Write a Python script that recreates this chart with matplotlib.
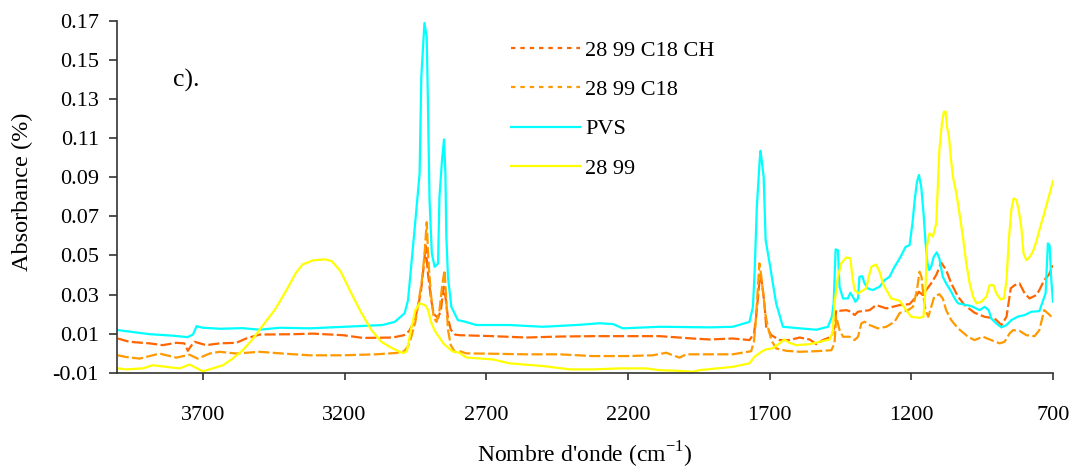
import numpy as np
import matplotlib
matplotlib.use("Agg")
import matplotlib.pyplot as plt
from matplotlib.lines import Line2D

# (wavenumber cm-1, absorbance)
c18ch = [(4000, 0.0075), (3959, 0.0058), (3888, 0.005), (3841, 0.0041), (3794, 0.0053),
         (3765, 0.005), (3753, 0.0012), (3740, 0.004), (3729, 0.0058), (3688, 0.0041),
         (3641, 0.005), (3582, 0.0053), (3547, 0.0075), (3500, 0.0095), (3382, 0.0097),
         (3312, 0.010), (3206, 0.0092), (3135, 0.0078), (3030, 0.008), (2990, 0.0092),
         (2971, 0.0115), (2955, 0.016), (2940, 0.024), (2930, 0.032), (2920, 0.045),
         (2914, 0.055), (2905, 0.040), (2895, 0.028), (2885, 0.020), (2870, 0.018),
         (2860, 0.022), (2850, 0.034), (2843, 0.028), (2835, 0.018), (2825, 0.012),
         (2810, 0.0095), (2795, 0.0092), (2677, 0.0087), (2559, 0.008), (2441, 0.0085),
         (2324, 0.0087), (2206, 0.0087), (2088, 0.0087), (1971, 0.0075), (1912, 0.007),
         (1830, 0.0075), (1771, 0.0067), (1755, 0.010), (1748, 0.018), (1740, 0.030),
         (1734, 0.040), (1727, 0.036), (1718, 0.025), (1712, 0.0135), (1694, 0.0092),
         (1665, 0.0067), (1630, 0.0067), (1594, 0.008), (1559, 0.007), (1535, 0.0046),
         (1512, 0.0067), (1482, 0.0084), (1471, 0.0135), (1465, 0.022), (1453, 0.0217),
         (1429, 0.022), (1412, 0.0212), (1400, 0.0195), (1388, 0.0212), (1347, 0.022),
         (1324, 0.0246), (1288, 0.0229), (1241, 0.0246), (1206, 0.0251), (1188, 0.028),
         (1173, 0.0314), (1159, 0.0297), (1154, 0.031), (1130, 0.0357), (1112, 0.040),
         (1094, 0.0463), (1077, 0.0425), (1059, 0.0357), (1035, 0.0289), (1012, 0.0246),
         (977, 0.0207), (941, 0.0186), (906, 0.0178), (882, 0.0144), (864, 0.0186),
         (849, 0.0332), (835, 0.0348), (818, 0.0357), (800, 0.0306), (783, 0.028),
         (759, 0.0297), (748, 0.0323), (731, 0.0374), (715, 0.040), (700, 0.045)]

c18 = [(4000, -0.0011), (3970, -0.002), (3923, -0.0028), (3853, -0.0002), (3794, -0.0023),
       (3747, -0.0008), (3718, -0.0028), (3676, -0.0002), (3641, 0.0007), (3582, -0.0002),
       (3500, 0.0007), (3418, -0.0002), (3323, -0.0011), (3206, -0.0011), (3088, -0.0006),
       (3018, 0.0001), (2990, 0.001), (2977, 0.0032), (2965, 0.008), (2950, 0.016),
       (2938, 0.027), (2928, 0.036), (2918, 0.050), (2910, 0.067), (2903, 0.045),
       (2895, 0.030), (2885, 0.018), (2875, 0.016), (2865, 0.022), (2855, 0.035),
       (2847, 0.0425), (2840, 0.025), (2835, 0.012), (2825, 0.004), (2810, 0.0005),
       (2795, 0.0011), (2771, -0.0001), (2677, -0.0003), (2559, -0.0006), (2441, -0.0006),
       (2324, -0.0015), (2206, -0.0015), (2112, -0.0011), (2065, 0.0002), (2018, -0.0023),
       (1994, -0.0006), (1912, -0.0006), (1830, -0.0006), (1765, 0.001), (1755, 0.006),
       (1748, 0.018), (1742, 0.032), (1736, 0.046), (1730, 0.040), (1722, 0.030),
       (1715, 0.020), (1706, 0.0135), (1694, 0.0067), (1677, 0.0024), (1641, 0.0012),
       (1594, 0.0007), (1535, 0.001), (1482, 0.0015), (1471, 0.005), (1465, 0.0186),
       (1453, 0.0118), (1441, 0.0084), (1418, 0.0084), (1400, 0.0067), (1388, 0.0084),
       (1376, 0.0153), (1365, 0.0161), (1347, 0.0144), (1318, 0.0127), (1288, 0.0135),
       (1259, 0.0161), (1241, 0.0205), (1212, 0.022), (1194, 0.0237), (1180, 0.0323),
       (1171, 0.0417), (1164, 0.0391), (1157, 0.0289), (1150, 0.022), (1140, 0.0186),
       (1119, 0.0289), (1101, 0.0302), (1089, 0.028), (1077, 0.022), (1059, 0.0169),
       (1035, 0.0127), (1000, 0.0084), (977, 0.0067), (947, 0.0084), (918, 0.0067),
       (888, 0.005), (871, 0.0058), (853, 0.0101), (841, 0.0118), (818, 0.0114),
       (794, 0.0092), (765, 0.0087), (748, 0.0118), (731, 0.022), (715, 0.020),
       (700, 0.0178)]

pvs = [(4000, 0.0118), (3888, 0.0097), (3810, 0.009), (3754, 0.0082), (3735, 0.0095),
       (3722, 0.0138), (3700, 0.013), (3640, 0.0125), (3560, 0.0128), (3500, 0.012),
       (3429, 0.013), (3323, 0.0127), (3200, 0.0135), (3066, 0.0144), (3023, 0.016),
       (2988, 0.0204), (2976, 0.0271), (2965, 0.0442), (2953, 0.063), (2935, 0.092),
       (2929, 0.1415), (2918, 0.169), (2910, 0.162), (2906, 0.131), (2900, 0.0784),
       (2892, 0.0511), (2882, 0.0442), (2870, 0.0459), (2865, 0.080), (2856, 0.0988),
       (2849, 0.1094), (2844, 0.092), (2841, 0.0613), (2835, 0.039), (2823, 0.0237),
       (2800, 0.0169), (2777, 0.0162), (2735, 0.0144), (2618, 0.0144), (2500, 0.0135),
       (2382, 0.0144), (2300, 0.0153), (2253, 0.0149), (2218, 0.0127), (2088, 0.0135),
       (1912, 0.0132), (1830, 0.0135), (1771, 0.016), (1759, 0.0237), (1753, 0.0408),
       (1745, 0.0749), (1735, 0.0988), (1732, 0.1036), (1721, 0.0903), (1714, 0.0579),
       (1700, 0.046), (1677, 0.0255), (1653, 0.0135), (1594, 0.0127), (1535, 0.012),
       (1494, 0.0135), (1480, 0.0187), (1474, 0.0255), (1467, 0.0531), (1459, 0.0527),
       (1453, 0.0339), (1441, 0.028), (1424, 0.028), (1415, 0.0309), (1406, 0.0288),
       (1397, 0.0263), (1388, 0.028), (1383, 0.0391), (1373, 0.0394), (1365, 0.0357),
       (1353, 0.0331), (1336, 0.0323), (1312, 0.034), (1294, 0.0374), (1277, 0.0391),
       (1259, 0.0442), (1241, 0.0485), (1220, 0.0544), (1206, 0.0553), (1196, 0.0664),
       (1188, 0.0784), (1180, 0.0877), (1173, 0.0912), (1165, 0.0852), (1157, 0.072),
       (1150, 0.057), (1143, 0.046), (1137, 0.0425), (1130, 0.0442), (1121, 0.0493),
       (1110, 0.0516), (1101, 0.0485), (1089, 0.0391), (1077, 0.0357), (1059, 0.0314),
       (1047, 0.028), (1035, 0.0255), (988, 0.0241), (959, 0.022), (941, 0.0237),
       (927, 0.022), (918, 0.0178), (900, 0.0152), (882, 0.0132), (864, 0.0144),
       (847, 0.0169), (824, 0.0187), (800, 0.0195), (776, 0.0212), (748, 0.0215),
       (726, 0.0307), (718, 0.0562), (712, 0.0553), (706, 0.0374), (700, 0.0263)]

s2899 = [(4000, -0.0078), (3970, -0.0083), (3912, -0.0078), (3877, -0.0062), (3829, -0.007),
         (3782, -0.0078), (3747, -0.0058), (3700, -0.0093), (3665, -0.0078), (3629, -0.0062),
         (3594, -0.0027), (3559, 0.0015), (3524, 0.0072), (3482, 0.0154), (3445, 0.0224),
         (3409, 0.0312), (3372, 0.041), (3348, 0.0454), (3311, 0.0475), (3269, 0.048),
         (3245, 0.0471), (3214, 0.0419), (3178, 0.0312), (3141, 0.0207), (3105, 0.0118),
         (3069, 0.0057), (3030, 0.0024), (2994, 0.0), (2980, 0.001), (2965, 0.0125),
         (2950, 0.022), (2935, 0.0255), (2915, 0.0245), (2905, 0.022), (2895, 0.016),
         (2882, 0.0115), (2850, 0.0048), (2820, 0.001), (2795, 0.0002), (2771, -0.0022),
         (2677, -0.0032), (2618, -0.0052), (2500, -0.0066), (2405, -0.0083), (2324, -0.0083),
         (2229, -0.0078), (2135, -0.0078), (2088, -0.0087), (2029, -0.009), (1971, -0.0095),
         (1947, -0.0087), (1830, -0.007), (1771, -0.0052), (1753, -0.0018), (1729, 0.0007),
         (1712, 0.002), (1689, 0.0025), (1665, 0.005), (1648, 0.007), (1630, 0.0053),
         (1606, 0.0041), (1559, 0.0046), (1524, 0.0058), (1488, 0.007), (1477, 0.0109),
         (1471, 0.0255), (1459, 0.0391), (1447, 0.046), (1429, 0.049), (1415, 0.0485),
         (1408, 0.0391), (1400, 0.0323), (1388, 0.0306), (1359, 0.0331), (1350, 0.0391),
         (1341, 0.0442), (1324, 0.0454), (1312, 0.0417), (1300, 0.0357), (1288, 0.0323),
         (1271, 0.028), (1241, 0.0268), (1218, 0.022), (1200, 0.0186), (1171, 0.0181),
         (1157, 0.0186), (1150, 0.0323), (1145, 0.0545), (1136, 0.0613), (1124, 0.0596),
         (1112, 0.0664), (1107, 0.0835), (1101, 0.104), (1092, 0.1176), (1085, 0.1236),
         (1079, 0.1236), (1074, 0.1159), (1067, 0.1108), (1061, 0.1005), (1053, 0.0903),
         (1041, 0.0818), (1030, 0.0715), (1018, 0.0596), (1006, 0.0459), (994, 0.0357),
         (982, 0.0289), (970, 0.0255), (953, 0.0263), (935, 0.0289), (924, 0.0348),
         (910, 0.0348), (900, 0.0306), (885, 0.0275), (873, 0.028), (864, 0.0374),
         (856, 0.0579), (847, 0.0732), (839, 0.0792), (829, 0.0784), (821, 0.0732),
         (812, 0.0647), (804, 0.051), (794, 0.0476), (782, 0.0493), (771, 0.0519),
         (759, 0.057), (748, 0.063), (730, 0.072), (715, 0.080), (700, 0.088)]

labels = ["28 99 C18 CH", "28 99 C18", "PVS", "28 99"]
colors = ["#FF6600", "#FF9900", "#00FFFF", "#FFFF00"]
xticks = [3700, 3200, 2700, 2200, 1700, 1200, 700]
yticks = [-0.01, 0.01, 0.03, 0.05, 0.07, 0.09, 0.11, 0.13, 0.15, 0.17]

plt.rcParams["font.family"] = "Liberation Serif"
plt.rcParams["mathtext.fontset"] = "custom"
plt.rcParams["mathtext.rm"] = "Liberation Serif"
plt.rcParams["axes.unicode_minus"] = False

fig = plt.figure(figsize=(10.77, 4.72), dpi=100)
ax = fig.add_axes([0.1086, 0.2104, 0.8691, 0.7451])

series = [c18ch, c18, pvs, s2899]
dashed = [True, True, False, False]
for data, col, dsh in zip(series, colors, dashed):
    x, y = zip(*data)
    if dsh:
        ax.plot(x, y, color=col, lw=1.6, dashes=(5, 1.5))
    else:
        ax.plot(x, y, color=col, lw=1.6)

ax.set_xlim(4003, 700)
ax.set_ylim(-0.01, 0.17)
ax.set_xticks(xticks)
ax.set_xticklabels([str(t) for t in xticks])
ax.set_yticks(yticks)
ax.set_yticklabels(["%.2f" % t for t in yticks])

for side in ["top", "right"]:
    ax.spines[side].set_visible(False)
for side in ["left", "bottom"]:
    ax.spines[side].set_color("#333333")
    ax.spines[side].set_linewidth(1.2)

ax.tick_params(axis="y", direction="out", length=6, width=1.2, pad=7, labelsize=16, colors="#333333", labelcolor="black")
ax.tick_params(axis="x", direction="out", length=5, width=1.2, pad=19, labelsize=16, colors="#333333", labelcolor="black")

ax.text(0.0598, 0.8123, "c).", transform=ax.transAxes, fontsize=18.5, va="baseline")

fig.text(22 / 1077, 1 - 192 / 472, "Absorbance (%)", rotation=90, ha="center", va="center", fontsize=17.5)
fig.text(585 / 1077, 1 - 463 / 472, "Nombre d'onde (cm$^{-1}$)", ha="center", va="baseline", fontsize=17)

# legend with short-dash proxies
handles = []
for col, dsh in zip(colors, dashed):
    if dsh:
        handles.append(Line2D([], [], color=col, lw=1.6, dashes=(2, 2.2)))
    else:
        handles.append(Line2D([], [], color=col, lw=1.6))
ax.legend(handles, labels, loc="upper left", bbox_to_anchor=(511 / 1077, 1 - 40 / 472),
          bbox_transform=fig.transFigure, frameon=False, fontsize=16,
          handlelength=3.1, handletextpad=0.25, labelspacing=0.85, borderpad=0, borderaxespad=0)

fig.savefig("out.png", dpi=100)
